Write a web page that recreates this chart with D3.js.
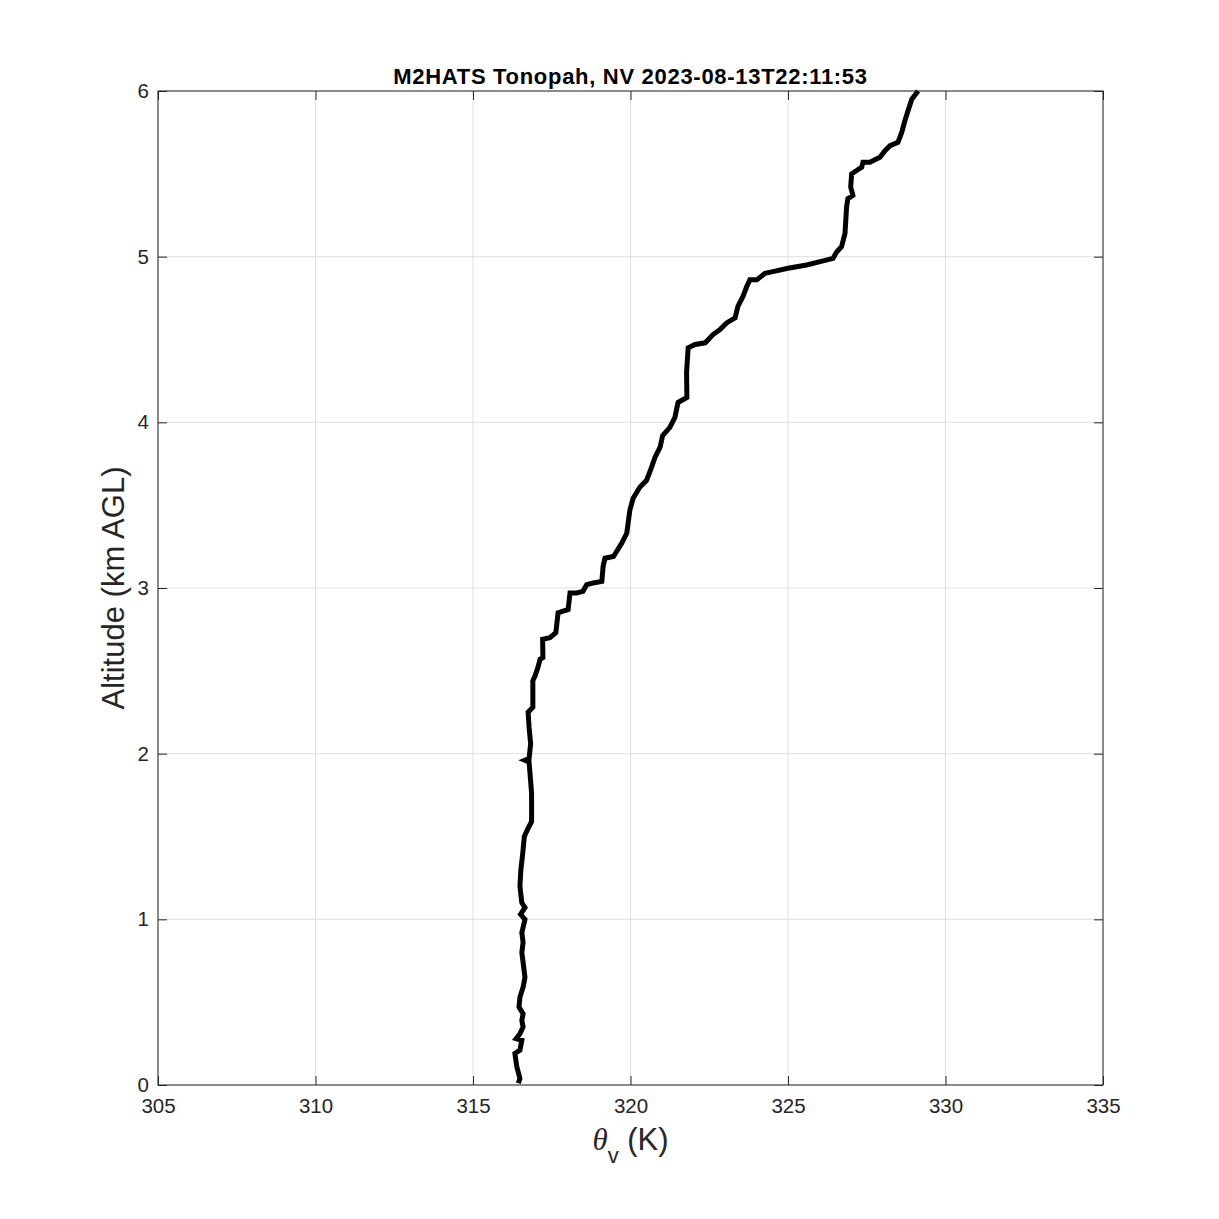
<!DOCTYPE html>
<html>
<head>
<meta charset="utf-8">
<script src="https://cdn.jsdelivr.net/npm/d3@7"></script>
<style>
  body { margin: 0; background: #fff; }
  svg text { font-family: Helvetica, Arial, "Liberation Sans", sans-serif; fill: #262626; }
</style>
</head>
<body>
<div id="chart"></div>
<script>
// profile: virtual potential temperature (K) vs altitude (km AGL)
var thetaV = [316.44, 316.49, 316.39, 316.33, 316.49, 316.55, 316.37, 316.49, 316.59, 316.55,
	316.59, 316.46, 316.49, 316.59, 316.65, 316.59, 316.55, 316.59, 316.55, 316.65,
	316.51, 316.65, 316.55, 316.49, 316.52, 316.58, 316.63, 316.75, 316.86, 316.86,
	316.81, 316.78, 316.65, 316.78, 316.83, 316.78, 316.75, 316.90, 316.90, 316.97,
	317.06, 317.13, 317.22, 317.21, 317.44, 317.63, 317.70, 317.86, 318.02, 318.08,
	318.29, 318.49, 318.61, 318.81, 319.09, 319.13, 319.19, 319.46, 319.72, 319.88,
	319.98, 320.08, 320.30, 320.51, 320.67, 320.78, 320.94, 321.02, 321.25, 321.41,
	321.51, 321.79, 321.78, 321.83, 322.05, 322.37, 322.62, 322.84, 323.05, 323.32,
	323.41, 323.57, 323.69, 323.79, 324.01, 324.27, 324.52, 325.00, 325.59, 326.02,
	326.43, 326.55, 326.70, 326.81, 326.86, 326.90, 327.06, 326.99, 327.02, 327.18,
	327.34, 327.38, 327.60, 327.92, 328.08, 328.24, 328.49, 328.61, 328.71, 328.81,
	328.93, 329.13];
var altKm = [0.01, 0.04, 0.11, 0.19, 0.21, 0.27, 0.28, 0.31, 0.35, 0.39,
	0.43, 0.47, 0.53, 0.59, 0.65, 0.74, 0.80, 0.86, 0.92, 1.00,
	1.03, 1.07, 1.10, 1.20, 1.30, 1.40, 1.50, 1.55, 1.59, 1.76,
	1.88, 1.95, 1.96, 1.97, 2.06, 2.16, 2.25, 2.28, 2.44, 2.47,
	2.52, 2.57, 2.58, 2.69, 2.70, 2.73, 2.85, 2.86, 2.87, 2.97,
	2.97, 2.98, 3.02, 3.03, 3.04, 3.13, 3.18, 3.19, 3.27, 3.33,
	3.47, 3.54, 3.61, 3.65, 3.73, 3.79, 3.85, 3.92, 3.97, 4.03,
	4.12, 4.15, 4.30, 4.45, 4.47, 4.48, 4.53, 4.56, 4.60, 4.63,
	4.70, 4.76, 4.82, 4.86, 4.86, 4.90, 4.91, 4.93, 4.95, 4.97,
	4.99, 5.03, 5.06, 5.14, 5.30, 5.35, 5.37, 5.42, 5.50, 5.52,
	5.54, 5.57, 5.57, 5.60, 5.64, 5.67, 5.69, 5.75, 5.82, 5.88,
	5.95, 6.01];

var xTicks = [305, 310, 315, 320, 325, 330, 335];
var yTicks = [0, 1, 2, 3, 4, 5, 6];
var chartTitle = "M2HATS Tonopah, NV 2023-08-13T22:11:53";

var width = 1219, height = 1219;
var margin = {top: 91, right: 116, bottom: 134, left: 158};
var plotW = width - margin.left - margin.right,
	plotH = height - margin.top - margin.bottom;

var svg = d3.select("#chart")
	.append("svg")
	.attr("width", width)
	.attr("height", height);

var g = svg.append("g")
	.attr("transform", "translate(" + margin.left + "," + margin.top + ")");

var x = d3.scaleLinear().domain([305, 335]).range([0, plotW]);
var y = d3.scaleLinear().domain([0, 6]).range([plotH, 0]);

// grid
g.append("g").selectAll("line").data(xTicks).enter()
	.append("line")
	.attr("x1", d => x(d)).attr("x2", d => x(d))
	.attr("y1", 0).attr("y2", plotH)
	.style("stroke", "#dfdfdf").style("stroke-width", 1);
g.append("g").selectAll("line").data(yTicks).enter()
	.append("line")
	.attr("y1", d => y(d)).attr("y2", d => y(d))
	.attr("x1", 0).attr("x2", plotW)
	.style("stroke", "#dfdfdf").style("stroke-width", 1);

// profile
var line = d3.line()
	.x((d, i) => x(thetaV[i]))
	.y((d, i) => y(Math.min(altKm[i], 6)));

g.append("path")
	.datum(altKm)
	.attr("d", line)
	.style("fill", "none")
	.style("stroke", "#000")
	.style("stroke-width", 5)
	.style("stroke-linejoin", "miter")
	.style("stroke-miterlimit", 3);

// axes, inward ticks on all four sides
function styleAxis(sel) {
	sel.select(".domain").remove();
	sel.selectAll("line").style("stroke", "#262626");
	sel.selectAll("text").style("font-size", "20.5px").style("fill", "#262626");
}

g.append("g")
	.attr("transform", "translate(0," + plotH + ")")
	.call(d3.axisBottom(x).tickValues(xTicks).tickSizeInner(-9).tickSizeOuter(0).tickPadding(13).tickFormat(d3.format("d")))
	.call(styleAxis);
g.append("g")
	.call(d3.axisTop(x).tickValues(xTicks).tickSizeInner(-9).tickSizeOuter(0).tickFormat(""))
	.call(styleAxis);
g.append("g")
	.call(d3.axisLeft(y).tickValues(yTicks).tickSizeInner(-9).tickSizeOuter(0).tickPadding(9).tickFormat(d3.format("d")))
	.call(styleAxis);
g.append("g")
	.attr("transform", "translate(" + plotW + ",0)")
	.call(d3.axisRight(y).tickValues(yTicks).tickSizeInner(-9).tickSizeOuter(0).tickFormat(""))
	.call(styleAxis);

g.append("rect")
	.attr("width", plotW).attr("height", plotH)
	.style("fill", "none").style("stroke", "#262626").style("stroke-width", 1);

// title
svg.append("text")
	.attr("x", margin.left + plotW / 2)
	.attr("y", 84)
	.attr("text-anchor", "middle")
	.style("font-size", "22px")
	.style("letter-spacing", "0.7px")
	.style("font-weight", "bold")
	.style("fill", "#000")
	.text(chartTitle);

// y label
svg.append("text")
	.attr("transform", "translate(124," + (margin.top + plotH / 2) + ") rotate(-90)")
	.attr("text-anchor", "middle")
	.style("font-size", "31px")
	.text("Altitude (km AGL)");

// x label: theta_v (K)
var xl = svg.append("text")
	.attr("x", margin.left + plotW / 2)
	.attr("y", 1150)
	.attr("text-anchor", "middle")
	.style("font-size", "31px");
xl.append("tspan")
	.style("font-family", "'Liberation Serif', 'DejaVu Serif', serif")
	.style("font-style", "italic")
	.text("\u03b8");
xl.append("tspan")
	.attr("dy", 13)
	.style("font-size", "22px")
	.text("v");
xl.append("tspan")
	.attr("dy", -13)
	.text(" (K)");
</script>
</body>
</html>
